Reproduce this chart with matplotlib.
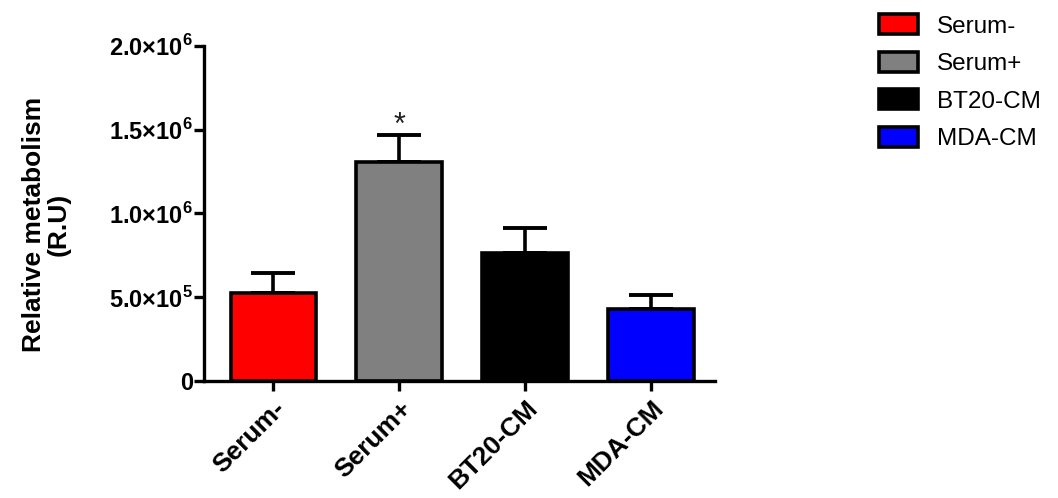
import numpy as np
import matplotlib
matplotlib.use('Agg')
import matplotlib.pyplot as plt
from matplotlib.ticker import FixedLocator, FixedFormatter

plt.rcParams['font.family'] = ['Liberation Sans', 'DejaVu Sans']
plt.rcParams['mathtext.fontset'] = 'custom'
plt.rcParams['mathtext.rm'] = 'Liberation Sans:bold'
plt.rcParams['mathtext.bf'] = 'Liberation Sans:bold'

groups = ['Serum-', 'Serum+', 'BT20-CM', 'MDA-CM']
means = [5.25e5, 1.307e6, 7.64e5, 4.30e5]
sem = [1.20e5, 1.62e5, 1.49e5, 0.83e5]
colors = ['#ff0000', '#808080', '#000000', '#0000ff']
yticks = [0, 5e5, 1e6, 1.5e6, 2e6]
yticklabels = ['0', r'$5.0{\times}10^{5}$', r'$1.0{\times}10^{6}$',
               r'$1.5{\times}10^{6}$', r'$2.0{\times}10^{6}$']
stars = ['', '*', '', '']

fig = plt.figure(figsize=(10.58, 4.98), dpi=100)
ax = fig.add_axes([0.193, 0.235, 0.483, 0.673])

x = np.arange(len(groups))
ax.errorbar(x, means, yerr=[np.zeros(len(sem)), sem], fmt='none',
            ecolor='black', elinewidth=2.6, capsize=16, capthick=2.8, zorder=1)
ax.bar(x, means, width=0.68, color=colors, edgecolor='black',
       linewidth=2.6, zorder=2)

# significance mark above the error bar
for xi, m, s, st in zip(x, means, sem, stars):
    if st:
        ax.text(xi, m + s - 0.035e6, st, ha='center', va='bottom',
                fontsize=22, color='#222222')

ax.set_xlim(-0.55, 3.51)
ax.set_ylim(0, 2e6)
ax.yaxis.set_major_locator(FixedLocator(yticks))
ax.yaxis.set_major_formatter(FixedFormatter(yticklabels))
ax.set_xticks(x)
ax.set_xticklabels(groups, rotation=45, ha='right', rotation_mode='anchor',
                   fontweight='bold', fontsize=19)
for lab in ax.get_yticklabels():
    lab.set_fontsize(17)
    lab.set_fontweight('bold')

ax.spines['top'].set_visible(False)
ax.spines['right'].set_visible(False)
for sp in ['left', 'bottom']:
    ax.spines[sp].set_linewidth(2.4)
ax.tick_params(axis='both', width=2.4, length=7, direction='out')
ax.tick_params(axis='x', pad=4)
ax.tick_params(axis='y', pad=1)

ax.set_ylabel('Relative metabolism\n(R.U)', fontsize=19, fontweight='bold',
              linespacing=1.0)
ax.yaxis.set_label_coords(-0.262, 0.466)

handles = [plt.Rectangle((0, 0), 1, 1, facecolor=c, edgecolor='black',
                         linewidth=2.6) for c in colors]
fig.legend(handles, groups, loc='upper left', bbox_to_anchor=(0.810, 1.015),
           frameon=False, fontsize=17.5, handlelength=1.6, handleheight=0.88,
           labelspacing=0.58, handletextpad=0.8)

fig.savefig('out.png', dpi=100)
